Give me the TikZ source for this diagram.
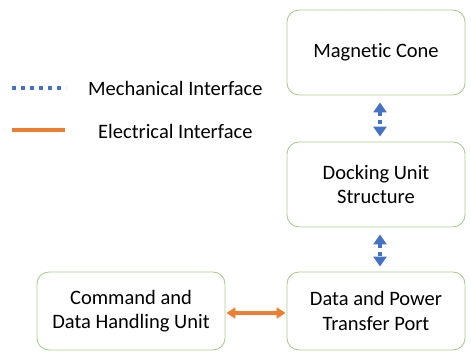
\documentclass[tikz,border=0pt]{standalone}
\usepackage{fontspec}
\setmainfont{Carlito}[Ligatures={NoCommon}]
\usetikzlibrary{arrows.meta}
\definecolor{boxline}{HTML}{A9D18E}
\definecolor{mechblue}{HTML}{4472C4}
\definecolor{elecorange}{HTML}{ED7D31}
\tikzset{
  block/.style={draw=boxline, line width=0.9pt, rounded corners=12pt, fill=white,
    align=center, font=\fontsize{20.5}{24.5}\selectfont, inner sep=0pt},
  mech/.style={mechblue, line width=3.5pt, dash pattern=on 4pt off 4pt,
    {Triangle[width=13pt,length=10pt]}-{Triangle[width=13pt,length=10pt]},
    shorten <=7pt, shorten >=5pt},
  elec/.style={elecorange, line width=3.5pt},
  legendtext/.style={anchor=west, font=\fontsize{20.5}{24}\selectfont, inner sep=0pt}
}
\begin{document}
\begin{tikzpicture}[x=1pt, y=-1pt]
  \useasboundingbox (0,0) rectangle (471,352);
  % blocks
  \node[block, minimum width=178pt, minimum height=85pt] (cone) at (376,52.5) {Magnetic Cone};
  \node[block, minimum width=178pt, minimum height=85pt] (dock) at (376,184.5) {Docking Unit\\Structure};
  \node[block, minimum width=178pt, minimum height=78pt] (port) at (376,311) {Data and Power\\Transfer Port};
  \node[block, minimum width=188pt, minimum height=78pt] (cdh) at (131,311) {Command and\\Data Handling Unit};
  % mechanical links
  \draw[mech] ([xshift=4pt]cone.south) -- ([xshift=4pt]dock.north);
  \draw[mech] ([xshift=4pt]dock.south) -- ([xshift=4pt]port.north);
  % electrical link
  \draw[elec, {Triangle[width=11pt,length=9pt]}-{Triangle[width=11pt,length=9pt]},
        shorten <=1pt, shorten >=1pt]
    (cdh.east |- 0,313) -- (port.west |- 0,313);
  % legend
  \coordinate (m1) at (12,88);
  \coordinate (m2) at (66,88);
  \draw[mechblue, line width=3.5pt, dash pattern=on 4pt off 5pt] (m1) -- (m2);
  \node[legendtext] (mechlabel) at (88,88) {Mechanical Interface};
  \coordinate (e1) at (12,130);
  \coordinate (e2) at (65,130);
  \draw[elec] (e1) -- (e2);
  \node[legendtext] (eleclabel) at (98,131) {Electrical Interface};
\end{tikzpicture}
\end{document}
